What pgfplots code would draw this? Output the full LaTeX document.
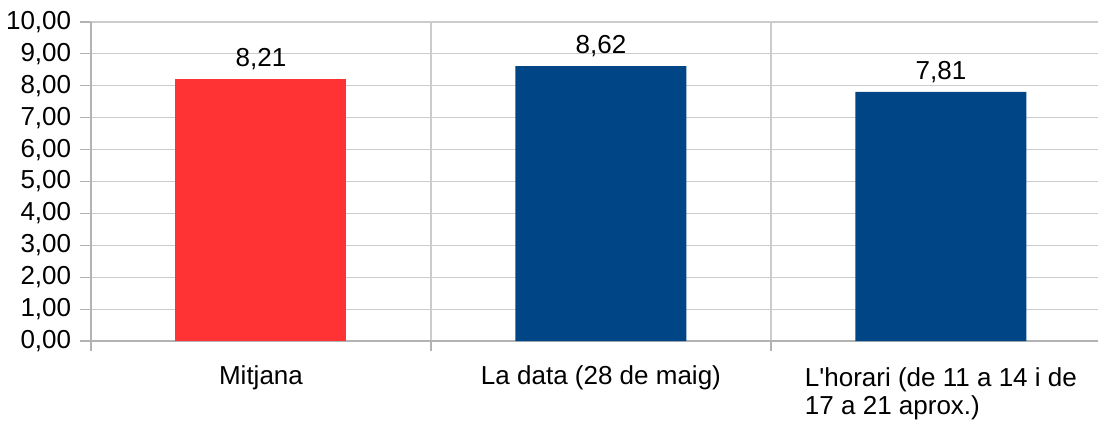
\documentclass[border=0pt]{standalone}
\usepackage{pgfplots}
\pgfplotsset{compat=1.18}
\usepackage{fontspec}
\setmainfont{Liberation Sans}[Ligatures=TeXOff]
\definecolor{barred}{HTML}{FF3333}
\definecolor{barblue}{HTML}{004586}
\definecolor{gridc}{HTML}{CCCCCC}
\definecolor{axisc}{HTML}{B3B3B3}
\newcommand{\lblfont}{\fontsize{26bp}{29bp}\selectfont}
\begin{document}
\lblfont
\begin{tikzpicture}
\path[use as bounding box] (-91bp,-80bp) rectangle (1007bp,341bp);
\begin{axis}[
  at={(0,0)}, anchor=south west,
  scale only axis,
  width=1007bp, height=319bp,
  xmin=0, xmax=2.962, ymin=0, ymax=10,
  axis lines*=left,
  axis line style={draw=axisc, line width=1.2bp},
  ytick={0,1,...,10},
  ymajorgrids,
  major grid style={draw=gridc, line width=1.2bp},
  minor grid style={draw=gridc, line width=1.2bp},
  xtick={0.5,1.5,2.5},
  xticklabels={{Mitjana},{La data (28 de maig)},{\begin{tabular}{@{}l@{}}L'horari (de 11 a 14 i de\\[-1bp]17 a 21 aprox.)\end{tabular}}},
  minor xtick={0,1,2},
  xminorgrids,
  tick align=outside,
  major tick length=11bp,
  minor tick length=10bp,
  major x tick style={draw=none},
  minor x tick style={draw=axisc, line width=1.2bp},
  ytick style={draw=axisc, line width=1.2bp},
  tick label style={font=\lblfont, text=black},
  yticklabel style={/pgf/number format/.cd, fixed, fixed zerofill, precision=2, use comma, assume math mode=true},
  xticklabel style={anchor=north, yshift=-5bp, align=center},
  clip=false,
]
\addplot[ybar, bar width=0.503, bar shift=0pt, fill=barred, draw=none,
  nodes near coords, nodes near coords style={font=\lblfont, text=black, /pgf/number format/.cd, fixed, fixed zerofill, precision=2, use comma, assume math mode=true}]
  coordinates {(0.5,8.21)};
\addplot[ybar, bar width=0.503, bar shift=0pt, fill=barblue, draw=none,
  nodes near coords, nodes near coords style={font=\lblfont, text=black, /pgf/number format/.cd, fixed, fixed zerofill, precision=2, use comma, assume math mode=true}]
  coordinates {(1.5,8.62) (2.5,7.81)};
\end{axis}
\end{tikzpicture}
\end{document}
